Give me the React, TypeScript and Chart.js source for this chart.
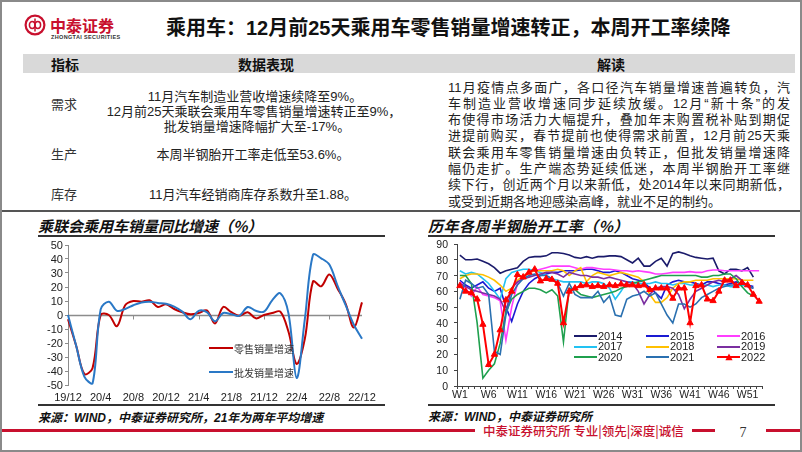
import React, { useEffect, useRef, useState } from 'react';
import { Chart, registerables } from 'chart.js';

Chart.register(...registerables);

// ---------- Left chart data (乘联会乘用车销量同比增速, %) ----------
const monthLabels = ['19/12','20/1','20/2','20/3','20/4','20/5','20/6','20/7','20/8','20/9','20/10','20/11','20/12',
  '21/1','21/2','21/3','21/4','21/5','21/6','21/7','21/8','21/9','21/10','21/11','21/12',
  '22/1','22/2','22/3','22/4','22/5','22/6','22/7','22/8','22/9','22/10','22/11','22/12'];
const retailGrowth = [-3, -22, -42, -38, 0, 0, -8, 7, 10, 9.5, 10.5, 5.7, 7.6,
  4.3, 2, 0.5, 1.4, 3.3, -6, 5.7, 2, -0.5, 2, -2.4, 0,
  1.4, 2.4, -12, -35, -17, 24, 20.5, 29, 19, 8, -9, 9];
const wholesaleGrowth = [0, -22, -44, -49, 4, 9.5, 3, 4.3, 7, 9, 9.5, 8.6, 8,
  6, 2.4, -3, 3, 2, -4.5, 1.4, 0.5, -0.5, 5.7, 3, 2.4,
  10.5, 15.5, 1, -45, -3, 43, 40.5, 36, 21, 7, -7, -17];
const leftTickLabels = ['19/12','20/4','20/8','20/12','21/4','21/8','21/12','22/4','22/8','22/12'];

// ---------- Right chart data (历年各周半钢胎开工率, %) ----------
const weekLabels = ['W1','W2','W3','W4','W5','W6','W7','W8','W9','W10','W11','W12','W13','W14','W15','W16','W17','W18','W19','W20',
  'W21','W22','W23','W24','W25','W26','W27','W28','W29','W30','W31','W32','W33','W34','W35','W36','W37','W38','W39','W40',
  'W41','W42','W43','W44','W45','W46','W47','W48','W49','W50','W51','W52','W53'];
const rate2014 = [83,80,80,80.5,79,77.5,75,71.5,73,74, 75,79,81.5,82,82,82.5,84.5,84.5,84,83, 81.5,81,82,81,82,82,82.5,82.5,82,80,
  78,81,76,76,79,81,76,84,85,84, 82.5,81.5,81,80.5,81,73,71,74,74,73, 75,69];
const rate2015 = [67,64,62,64,66,62,60,62,50,41, 52,60,65,68,70,71,72,72,73,73, 73,73.5,74,74,73,72,72,73,72,70,
  68,67,66,62,59,55.5,64,66,67,66, 66,65,64,66,66,65,64,65,66,65, 64,63];
const rate2016 = [66,62,57,63,58,57,56,54,29,50, 65,70,72,73,74,75,76,76,76,76, 75,74,75,75,74.5,74,74,73.5,73,73,
  72.5,73,72.5,72,71,71,71.5,72,72,72, 72.5,72,72,73,73.5,73.5,73,73,73,73, 73,73,73];
const rate2017 = [73,71,72,71,68,65,60,55,68,72, 73,74,74,73,72,70,68,67,66,66, 66,66,65,66,66,65,62,55,60,66,
  66,65,65,65,66,65,65,64,65,65, 64,64,64,64,63,64,64,63,63,64, 63,62];
const rate2018 = [68,70,71,71,70.5,69,67,64,60,62, 67,70,72,73,73,73,73,74,73,70, 73,75,66,70,72,71,70,71,72,71,
  70,69,66,58,53,53,56,62,65,66, 66,67,67,67,68,68,68,68,68,67, 67,67];
const rate2019 = [65,63,61,60,59,58,57,55,47,62, 66,68,69,70,71,72,72,71,69,72, 71,70,70,69,69,68,69,68,67,66,
  65,60,52,58,62,63,63,62,58,49, 55,60,62,64,66,67,66,68,70,67, 63,62];
const rate2020 = [70,70,65,40,5,10,14,27,47,55, 58,60,62,62,61,59,61,57,28,62, 61,58,57,56,57,58,59,60,62,63,
  65,66,67,68,69,70,70,70,70,70, 70,70,69,69,70,70,71,71,68,63, 59,57];
const rate2021 = [55,67,65,62,63,58,22,20,45,58, 64,68,70,71,70,70,68,65,57,65, 58,56,56,56,60,53,57,45,44,55,
  57,58,60,57,59,52,45,40,52,52, 50,52,56,58,60,62,63,64,64,65, 64,62];
const rate2022 = [63.5,60,59,55,39,13.5,20,35.5,54.5,60, 70.5,69,72,74,66.5,68,67.5,65,40,60, 62,63.5,64,63,63.5,63,64,63.5,64.5,64,
  64,63.5,64,61,62,62,62,55.5,62,62, 40,63.5,64,55,54,60,67,67,63.5,65.5, 64,58,53.6];

const yearNames = ['2014','2015','2016','2017','2018','2019','2020','2021','2022'];
const yearColors = ['#1b1b6b','#1a1ad2','#ff3dff','#22c2f2','#ffc000','#7b2fa0','#1fa04e','#2a70b0','#ff0000'];
const yearSeries = [rate2014, rate2015, rate2016, rate2017, rate2018, rate2019, rate2020, rate2021, rate2022];

const CJK = "'Noto Sans CJK SC', sans-serif";
const MIX = "'Liberation Sans', 'Noto Sans CJK SC', sans-serif";
const TICKFONT = "'Liberation Sans', Arial, sans-serif";
const RED = '#c8102e';

function Txt({ x, cy, size, children, style, w, align }: any) {
  const h = Math.round(size * 1.5);
  const base: any = { position: 'absolute', top: cy - h / 2, height: h, lineHeight: h + 'px', fontSize: size, whiteSpace: 'nowrap' };
  if (align === 'center') {
    base.left = x - (w || 400) / 2; base.width = w || 400; base.textAlign = 'center';
  } else {
    base.left = x;
    if (w) base.width = w;
  }
  return <div style={{ ...base, ...style }}>{children}</div>;
}

type YTick = { v: number; y: number; r: number };

function readYTicks(chart: any): YTick[] {
  const ys = chart.scales.y;
  return ys.ticks.map((t: any) => ({ v: t.value, y: ys.getPixelForValue(t.value), r: ys.right }));
}

function YLabels({ ticks, left, top, gap, size }: any) {
  return (
    <>
      {ticks.map((t: YTick) => (
        <div key={t.v} style={{
          position: 'absolute', left: left + t.r - gap - 40, width: 40, textAlign: 'right',
          top: top + t.y - 7, height: 14, lineHeight: '14px', fontSize: size, fontFamily: TICKFONT,
          color: '#222', zIndex: 6, whiteSpace: 'nowrap',
        }}>{t.v}</div>
      ))}
    </>
  );
}

function SalesChart() {
  const ref = useRef<HTMLCanvasElement>(null);
  const [ticks, setTicks] = useState<YTick[]>([]);
  useEffect(() => {
    const zeroLine = {
      id: 'zeroLine',
      beforeDatasetsDraw(chart: any) {
        const { ctx, chartArea, scales } = chart;
        const y0 = Math.round(scales.y.getPixelForValue(0)) + 0.5;
        ctx.save();
        ctx.strokeStyle = '#8c8c8c';
        ctx.lineWidth = 1.6;
        ctx.beginPath();
        ctx.moveTo(chartArea.left, y0);
        ctx.lineTo(chartArea.right, y0);
        ctx.stroke();
        ctx.lineWidth = 1;
        [8, 16, 24, 32].forEach((i) => {
          const x = Math.round(scales.x.getPixelForValue(i)) + 0.5;
          ctx.beginPath();
          ctx.moveTo(x, y0);
          ctx.lineTo(x, y0 + 4);
          ctx.stroke();
        });
        ctx.restore();
      },
    };
    const chart = new Chart(ref.current as HTMLCanvasElement, {
      type: 'line',
      data: {
        labels: monthLabels,
        datasets: [
          { label: '零售销量增速', data: retailGrowth, borderColor: '#c00000', borderWidth: 2, pointRadius: 0, tension: 0.35, order: 1, fill: false },
          { label: '批发销量增速', data: wholesaleGrowth, borderColor: '#2a78c6', borderWidth: 2, pointRadius: 0, tension: 0.35, order: 0, fill: false },
        ],
      },
      options: {
        animation: false,
        responsive: false,
        maintainAspectRatio: false,
        devicePixelRatio: 1,
        layout: { padding: { top: 9, right: 28, left: 0, bottom: 0 } },
        plugins: { legend: { display: false }, tooltip: { enabled: false } },
        scales: {
          x: {
            type: 'category',
            offset: false,
            grid: { display: false, drawTicks: false },
            border: { display: false },
            ticks: {
              autoSkip: false, maxRotation: 0, minRotation: 0, padding: 6, color: '#222',
              font: { family: TICKFONT, size: 11 },
              callback: (_v: any, i: number) => (i % 4 === 0 ? leftTickLabels[i / 4] : ''),
            },
            afterFit: (s: any) => { s.height = 27; },
          },
          y: {
            type: 'linear',
            min: -50, max: 50,
            ticks: { stepSize: 10, autoSkip: false, display: false },
            grid: { drawOnChartArea: false, drawTicks: true, tickLength: 3, color: '#8c8c8c' },
            border: { display: true, color: '#8c8c8c' },
            afterFit: (s: any) => { s.width = 58; },
          },
        },
      } as any,
      plugins: [zeroLine],
    });
    setTicks(readYTicks(chart));
    return () => chart.destroy();
  }, []);
  return (
    <>
      <canvas ref={ref} width={380} height={176} style={{ position: 'absolute', left: 10, top: 236, width: 380, height: 176, zIndex: 5 }} />
      <YLabels ticks={ticks} left={10} top={236} gap={5} size={11} />
    </>
  );
}

function TireChart() {
  const ref = useRef<HTMLCanvasElement>(null);
  const [ticks, setTicks] = useState<YTick[]>([]);
  useEffect(() => {
    const datasets = yearSeries.map((d, i) => {
      const is22 = i === 8;
      return {
        label: yearNames[i],
        data: d,
        borderColor: yearColors[i],
        backgroundColor: yearColors[i],
        borderWidth: is22 ? 2 : 1.6,
        pointRadius: is22 ? 3.6 : 0,
        pointStyle: 'triangle',
        pointBackgroundColor: yearColors[i],
        pointBorderColor: yearColors[i],
        pointBorderWidth: 1,
        tension: 0,
        fill: false,
        order: is22 ? 0 : 9 - i,
      };
    });
    const chart = new Chart(ref.current as HTMLCanvasElement, {
      type: 'line',
      data: { labels: weekLabels, datasets },
      options: {
        animation: false,
        responsive: false,
        maintainAspectRatio: false,
        devicePixelRatio: 1,
        layout: { padding: { top: 8, right: 33, left: 0, bottom: 0 } },
        plugins: { legend: { display: false }, tooltip: { enabled: false } },
        scales: {
          x: {
            type: 'category',
            offset: true,
            grid: { display: true, offset: true, drawOnChartArea: false, drawTicks: true, tickLength: 3, color: '#444' },
            border: { display: true, color: '#444' },
            ticks: {
              autoSkip: false, maxRotation: 0, minRotation: 0, padding: 0, color: '#222',
              font: { family: TICKFONT, size: 10.5 },
              callback: (_v: any, i: number) => (i % 5 === 0 ? weekLabels[i] : ''),
            },
            afterFit: (s: any) => { s.height = 26; },
          },
          y: {
            type: 'linear',
            min: 0, max: 90,
            ticks: { stepSize: 10, autoSkip: false, display: false },
            grid: { drawOnChartArea: false, drawTicks: true, tickLength: 3, color: '#444' },
            border: { display: true, color: '#444' },
            afterFit: (s: any) => { s.width = 57; },
          },
        },
      } as any,
    });
    setTicks(readYTicks(chart));
    return () => chart.destroy();
  }, []);
  return (
    <>
      <canvas ref={ref} width={395} height={176} style={{ position: 'absolute', left: 400, top: 236, width: 395, height: 176, zIndex: 5 }} />
      <YLabels ticks={ticks} left={400} top={236} gap={9} size={10.5} />
    </>
  );
}

const rightLines = [
  '11月疫情点多面广，各口径汽车销量增速普遍转负，汽',
  '车制造业营收增速同步延续放缓。12月“新十条”的发',
  '布使得市场活力大幅提升，叠加年末购置税补贴到期促',
  '进提前购买，春节提前也使得需求前置，12月前25天乘',
  '联会乘用车零售销量增速由负转正，但批发销量增速降',
  '幅仍走扩。生产端态势延续低迷，本周半钢胎开工率继',
  '续下行，创近两个月以来新低，处2014年以来同期新低，',
  '或受到近期各地迎感染高峰，就业不足的制约。',
];

export default function App() {
  const legendCols = [574, 646, 717];
  const legendRows = [336, 346.5, 357];
  return (
    <div style={{ position: 'fixed', left: 0, top: 0, width: 802, height: 452, background: '#fff', overflow: 'hidden', fontFamily: MIX, color: '#222' }}>
      {/* logo */}
      <svg style={{ position: 'absolute', left: 24, top: 14 }} width={22} height={22} viewBox="0 0 22 22">
        <circle cx={11} cy={11} r={9.4} fill="none" stroke={RED} strokeWidth={2.2} />
        <ellipse cx={8.2} cy={11} rx={2.8} ry={3.4} fill="none" stroke={RED} strokeWidth={1.5} />
        <ellipse cx={13.8} cy={11} rx={2.8} ry={3.4} fill="none" stroke={RED} strokeWidth={1.5} />
        <path d="M11 4.5 V17.5" stroke={RED} strokeWidth={1.5} />
      </svg>
      <Txt x={50} cy={25} size={16} style={{ fontFamily: CJK, fontWeight: 700, color: RED }}>中泰证券</Txt>
      <Txt x={51} cy={37} size={5.5} style={{ fontFamily: "'Liberation Sans', sans-serif", fontWeight: 700, color: '#333', letterSpacing: 0.35 }}>ZHONGTAI SECURITIES</Txt>

      {/* title */}
      <Txt x={166} cy={28} size={20} style={{ fontFamily: MIX, fontWeight: 700, color: '#111' }}>乘用车：12月前25天乘用车零售销量增速转正，本周开工率续降</Txt>

      {/* table header */}
      <div style={{ position: 'absolute', left: 23, top: 54, width: 772, height: 19, background: '#d9d9d9' }} />
      <Txt x={65} cy={64} size={14} align="center" w={80} style={{ fontFamily: CJK, fontWeight: 700, color: '#111' }}>指标</Txt>
      <Txt x={266} cy={64} size={14} align="center" w={120} style={{ fontFamily: CJK, fontWeight: 700, color: '#111' }}>数据表现</Txt>
      <Txt x={611} cy={64} size={14} align="center" w={80} style={{ fontFamily: CJK, fontWeight: 700, color: '#111' }}>解读</Txt>

      {/* table body left */}
      <Txt x={64} cy={105} size={13} align="center" w={60} style={{ color: '#333' }}>需求</Txt>
      <Txt x={64} cy={155} size={13} align="center" w={60} style={{ color: '#333' }}>生产</Txt>
      <Txt x={64} cy={195} size={13} align="center" w={60} style={{ color: '#333' }}>库存</Txt>
      <Txt x={255} cy={97} size={13} align="center" w={320}>11月汽车制造业营收增速续降至9%。</Txt>
      <Txt x={254} cy={112} size={13} align="center" w={320}>12月前25天乘联会乘用车零售销量增速转正至9%，</Txt>
      <Txt x={257} cy={127} size={13} align="center" w={320}>批发销量增速降幅扩大至-17%。</Txt>
      <Txt x={253} cy={155} size={13} align="center" w={320}>本周半钢胎开工率走低至53.6%。</Txt>
      <Txt x={253} cy={195} size={13} align="center" w={320}>11月汽车经销商库存系数升至1.88。</Txt>

      {/* table body right */}
      {rightLines.map((t, i) => (
        <Txt key={i} x={448} cy={87.5 + i * 16.3} size={13} w={i < 7 ? 342 : undefined}
          style={i < 7 ? { textAlign: 'justify', textAlignLast: 'justify' } : {}}>{t}</Txt>
      ))}

      {/* divider */}
      <div style={{ position: 'absolute', left: 0, top: 210, width: 802, height: 2, background: '#555' }} />

      {/* left chart */}
      <Txt x={38} cy={225} size={15} style={{ fontFamily: CJK, fontWeight: 700, fontStyle: 'italic', color: '#111' }}>乘联会乘用车销量同比增速（%）</Txt>
      <div style={{ position: 'absolute', left: 38, top: 235, width: 347, height: 1.5, background: '#333' }} />
      <SalesChart />
      <div style={{ position: 'absolute', left: 209, top: 347, width: 24, height: 2, background: '#c00000', zIndex: 6 }} />
      <Txt x={234} cy={348} size={10} style={{ fontFamily: CJK, color: '#333', zIndex: 6 }}>零售销量增速</Txt>
      <div style={{ position: 'absolute', left: 209, top: 371, width: 24, height: 2, background: '#2a78c6', zIndex: 6 }} />
      <Txt x={234} cy={372} size={10} style={{ fontFamily: CJK, color: '#333', zIndex: 6 }}>批发销量增速</Txt>
      <div style={{ position: 'absolute', left: 38, top: 404, width: 347, height: 1.5, background: '#333' }} />
      <Txt x={38} cy={418} size={12} style={{ fontFamily: MIX, fontWeight: 700, fontStyle: 'italic', color: '#111' }}>来源：WIND，中泰证券研究所，21年为两年平均增速</Txt>

      {/* right chart */}
      <Txt x={428} cy={225} size={15} style={{ fontFamily: CJK, fontWeight: 700, fontStyle: 'italic', color: '#111', letterSpacing: 0.5 }}>历年各周半钢胎开工率（%）</Txt>
      <div style={{ position: 'absolute', left: 428, top: 235, width: 347, height: 1.5, background: '#333' }} />
      <TireChart />
      {yearNames.map((n, i) => {
        const col = i % 3;
        const row = Math.floor(i / 3);
        const lx = legendCols[col];
        const cy = legendRows[row];
        return (
          <React.Fragment key={n}>
            <div style={{ position: 'absolute', left: lx, top: cy - 1, width: 23, height: 2, background: yearColors[i], zIndex: 6 }} />
            {i === 8 && (
              <svg style={{ position: 'absolute', left: lx + 7.5, top: cy - 4.5, zIndex: 7 }} width={8} height={8} viewBox="0 0 8 8">
                <path d="M4 0.5 L7.6 7.2 L0.4 7.2 Z" fill={yearColors[i]} />
              </svg>
            )}
            <Txt x={lx + 24} cy={cy} size={11} style={{ fontFamily: TICKFONT, color: '#222', zIndex: 6 }}>{n}</Txt>
          </React.Fragment>
        );
      })}
      <div style={{ position: 'absolute', left: 428, top: 404, width: 347, height: 1.5, background: '#333' }} />
      <Txt x={428} cy={417} size={12} style={{ fontFamily: MIX, fontWeight: 700, fontStyle: 'italic', color: '#111' }}>来源：WIND，中泰证券研究所</Txt>

      {/* footer */}
      <div style={{ position: 'absolute', left: 0, top: 429, width: 475, height: 3, background: RED }} />
      <Txt x={483} cy={430} size={12.5} style={{ fontFamily: CJK, fontWeight: 500, color: RED }}>中泰证券研究所 专业|领先|深度|诚信</Txt>
      <div style={{ position: 'absolute', left: 692, top: 429, width: 23, height: 3, background: RED }} />
      <Txt x={743} cy={432} size={14} align="center" w={20} style={{ fontFamily: "'Liberation Serif', serif", color: '#333' }}>7</Txt>
      <div style={{ position: 'absolute', left: 766, top: 429, width: 40, height: 3, background: RED }} />

      {/* slide border */}
      <div style={{ position: 'absolute', left: 0, top: 0, width: 802, height: 452, border: '2px solid #8a8a8a', boxSizing: 'border-box', pointerEvents: 'none', zIndex: 8 }} />
    </div>
  );
}
